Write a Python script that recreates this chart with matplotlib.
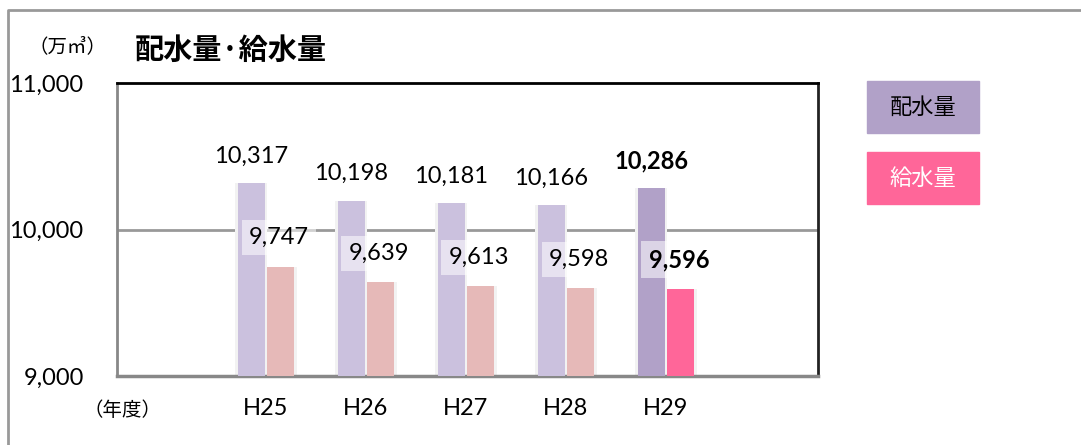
import matplotlib
matplotlib.use("Agg")
import matplotlib.pyplot as plt
from matplotlib.patches import Rectangle
from matplotlib.lines import Line2D
import numpy as np

plt.rcParams['font.family'] = ['Lato', 'Noto Sans CJK JP', 'DejaVu Sans']

years = ["H25", "H26", "H27", "H28", "H29"]
haisui = [10317, 10198, 10181, 10166, 10286]   # 配水量
kyusui = [9747, 9639, 9613, 9598, 9596]        # 給水量
yticks = [9000, 10000, 11000]

purple_light = "#CBC1DE"
pink_light = "#E6B9B8"
purple_dark = "#B1A1C8"
pink_dark = "#FF6699"

fig = plt.figure(figsize=(10.81, 4.45), dpi=100)
ax = fig.add_axes([0.1082, 0.155, 0.6485, 0.6584])

x = np.arange(len(years))
w = 0.27
off = 0.148
c1 = [purple_light] * 4 + [purple_dark]
c2 = [pink_light] * 4 + [pink_dark]

# soft glow behind bars
ax.bar(x - off, np.array(haisui) - 9000, w + 0.05, bottom=9000, color="#F2F2F2", zorder=2)
ax.bar(x + off, np.array(kyusui) - 9000, w + 0.05, bottom=9000, color="#F2F2F2", zorder=2)
ax.bar(x - off, np.array(haisui) - 9000, w, bottom=9000, color=c1, zorder=3)
ax.bar(x + off, np.array(kyusui) - 9000, w, bottom=9000, color=c2, zorder=3)

for i in range(len(years)):
    fw = "bold" if i == len(years) - 1 else "normal"
    ax.annotate(f"{haisui[i]:,}", (x[i] - off, haisui[i]), xytext=(0, 27),
                textcoords="offset pixels", ha="center", va="center",
                fontsize=17, fontweight=fw, zorder=5)
    ax.annotate(f"{kyusui[i]:,}", (x[i] + off, kyusui[i]), xytext=(-2, 29),
                textcoords="offset pixels", ha="center", va="center",
                fontsize=17, fontweight=fw, zorder=5,
                bbox=dict(boxstyle="square,pad=0.3", fc="white", ec="none", alpha=0.55))

ax.set_xlim(-1.49, 5.52)
ax.set_ylim(9000, 11000)
ax.set_yticks(yticks)
ax.set_yticklabels([f"{v:,}" for v in yticks], fontsize=17)
ax.set_xticks(x)
ax.set_xticklabels(years, fontsize=17)
ax.tick_params(axis="y", length=0, pad=24)
ax.tick_params(axis="x", length=0, pad=16)
ax.axhline(10000, color="#999999", lw=2, zorder=1)

ax.spines["top"].set_color("black")
ax.spines["top"].set_linewidth(2)
ax.spines["right"].set_color("#222222")
ax.spines["right"].set_linewidth(2)
ax.spines["left"].set_color("#888888")
ax.spines["left"].set_linewidth(2)
ax.spines["bottom"].set_color("#888888")
ax.spines["bottom"].set_linewidth(2.5)

# titles and units
fig.text(135 / 1081, 1 - 50 / 445, "配水量·給水量", fontsize=21, fontweight="bold",
         family=["Noto Sans CJK JP", "DejaVu Sans"], ha="left", va="center")
fig.text(68 / 1081, 1 - 47 / 445, "（万㎥）", fontsize=14,
         family=["Noto Sans CJK JP", "DejaVu Sans"], ha="center", va="center")
fig.text(122 / 1081, 1 - 410 / 445, "（年度）", fontsize=14,
         family=["Noto Sans CJK JP", "DejaVu Sans"], ha="center", va="center")

# legend boxes
for (y0, col, label, tc) in [(81, purple_dark, "配水量", "black"), (152, pink_dark, "給水量", "white")]:
    fig.patches.append(Rectangle((867 / 1081, 1 - (y0 + 52) / 445), 112 / 1081, 52 / 445,
                                 transform=fig.transFigure, color=col))
    fig.text(923 / 1081, 1 - (y0 + 26) / 445, label, fontsize=16, color=tc,
             family=["Noto Sans CJK JP", "DejaVu Sans"], ha="center", va="center")

# outer frame
fig.lines.append(Line2D([8 / 1081, 8 / 1081, 1.0], [0, 1 - 10 / 445, 1 - 10 / 445],
                        transform=fig.transFigure, color="#999999", lw=2))

fig.savefig("out.png", dpi=100)
